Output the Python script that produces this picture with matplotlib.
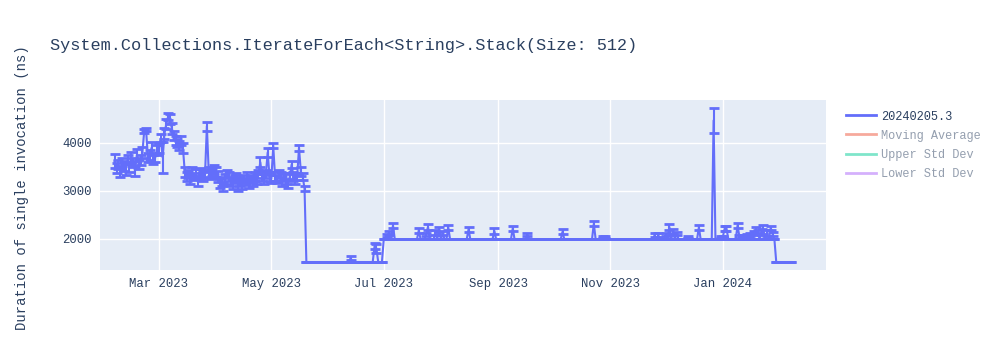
import matplotlib
matplotlib.use("Agg")
import matplotlib.pyplot as plt
import matplotlib.dates as mdates
from matplotlib.lines import Line2D
import pandas as pd

# --- data ------------------------------------------------------------------
# daily means, Feb 5 2023 .. May 19 2023
seg1_start = "2023-02-05"
seg1_values = [
    3620, 3480, 3550, 3400, 3600, 3520, 3450,
    3650, 3500, 3700, 3600, 3420, 3750, 3550,
    3650, 3800, 4250, 4280, 3700, 3750, 3900,
    3650, 3700, 3850,
    3900, 4100, 3700, 4200, 4400, 4550, 4500,
    4300, 4150, 4050, 4000, 3950, 4050, 3900,
    3400, 3300, 3350, 3250, 3400, 3300, 3350,
    3200, 3400, 3350, 3300, 3350, 4350, 3400,
    3350, 3400, 3450,
    3400, 3300, 3150, 3200, 3100, 3250, 3350,
    3300, 3200, 3150, 3250, 3300, 3100, 3200,
    3150, 3250, 3200, 3300, 3150, 3250, 3200,
    3300, 3250, 3350, 3600, 3300, 3250, 3350,
    3800, 3300,
    3250, 3950, 3300, 3250, 3350, 3300, 3200,
    3300, 3250, 3150, 3300, 3550, 3300, 3250,
    3300, 3900, 3400, 3300, 3050,
]
seg1_err = [
    150, 100, 90, 110, 80, 100, 120,
    90, 100, 120, 90, 100, 130, 90,
    100, 120, 40, 30, 90, 100, 120,
    90, 100, 110,
    100, 80, 330, 120, 100, 80, 100,
    110, 90, 100, 80, 90, 100, 110,
    100, 90, 80, 100, 90, 80, 100,
    90, 80, 100, 90, 80, 90, 100,
    90, 80, 100,
    100, 110, 90, 100, 90, 100, 80,
    90, 100, 110, 90, 80, 100, 90,
    100, 90, 80, 100, 90, 80, 100,
    90, 100, 80, 100, 90, 100, 80,
    90, 100,
    90, 60, 100, 90, 80, 100, 90,
    80, 100, 90, 80, 70, 90, 100,
    80, 60, 90, 80, 60,
]

# flat stretches: (start, end, level)
flat_starts = ["2023-05-20", "2023-07-01", "2024-01-30"]
flat_ends = ["2023-06-30", "2024-01-29", "2024-02-07"]
flat_levels = [1520, 1990, 1520]

# days that stand out from the flat stretches
spike_dates = [
    "2023-06-13", "2023-06-26", "2023-06-27",
    "2023-07-03", "2023-07-04", "2023-07-06", "2023-07-20", "2023-07-24",
    "2023-07-25", "2023-07-29", "2023-07-31", "2023-08-02", "2023-08-05",
    "2023-08-16", "2023-08-30", "2023-09-09", "2023-09-17", "2023-10-06",
    "2023-10-23", "2023-10-28", "2023-10-29", "2023-11-25", "2023-11-27",
    "2023-12-01", "2023-12-03", "2023-12-05", "2023-12-07", "2023-12-13",
    "2023-12-19", "2023-12-27", "2023-12-31", "2024-01-01", "2024-01-02",
    "2024-01-03", "2024-01-09", "2024-01-10", "2024-01-12", "2024-01-14",
    "2024-01-16", "2024-01-18", "2024-01-19", "2024-01-20", "2024-01-22",
    "2024-01-23", "2024-01-25", "2024-01-27", "2024-01-28",
]
spike_values = [
    1600, 1850, 1800,
    2080, 2130, 2280, 2180, 2100,
    2250, 2140, 2200, 2120, 2240,
    2200, 2170, 2220, 2090, 2150,
    2320, 2040, 2040, 2080, 2080,
    2100, 2250, 2150, 2120, 2040,
    2240, 4470, 2040, 2040, 2220,
    2220, 2280, 2050, 2050, 2080,
    2100, 2120, 2180, 2140, 2150,
    2200, 2120, 2230, 2100,
]
spike_err = [
    40, 60, 100,
    30, 40, 50, 50, 30,
    60, 50, 50, 40, 50,
    50, 60, 50, 35, 50,
    55, 20, 20, 40, 40,
    30, 60, 50, 30, 20,
    50, 260, 20, 20, 60,
    60, 50, 30, 30, 20,
    30, 40, 60, 40, 60,
    90, 60, 50, 40,
]

legend_names = ["20240205.3", "Moving Average", "Upper Std Dev", "Lower Std Dev"]
legend_colors = ["#636efa", "#EF553B", "#00cc96", "#ab63fa"]

# --- assemble the daily series ------------------------------------------------
s1 = pd.Series(seg1_values, index=pd.date_range(seg1_start, periods=len(seg1_values)), dtype=float)
e1 = pd.Series(seg1_err, index=s1.index, dtype=float)
parts, errs = [s1], [e1]
for a, b, lvl in zip(flat_starts, flat_ends, flat_levels):
    idx = pd.date_range(a, b)
    parts.append(pd.Series(lvl, index=idx, dtype=float))
    errs.append(pd.Series(0.0, index=idx))
values = pd.concat(parts)
err = pd.concat(errs)
sp = pd.to_datetime(spike_dates)
values.loc[sp] = spike_values
err.loc[sp] = spike_err

# --- figure -------------------------------------------------------------------
mono = ["Liberation Mono", "DejaVu Sans Mono"]
plt.rcParams["font.family"] = mono
text_c = "#2a3f5f"

fig = plt.figure(figsize=(10, 3.5), dpi=100)
ax = fig.add_axes([0.100, 0.2286, 0.726, 0.4857])
ax.set_facecolor("#e5ecf6")
for s in ax.spines.values():
    s.set_visible(False)

ax.errorbar(values.index, values.values, yerr=err.values, color="#636efa",
            lw=1.5, elinewidth=1.5, capsize=3.5, capthick=2, zorder=3)

ax.set_xlim(pd.Timestamp("2023-01-28"), pd.Timestamp("2024-02-26"))
ax.set_ylim(1354, 4896)
ax.set_yticks([2000, 3000, 4000])
ax.xaxis.set_major_locator(mdates.MonthLocator(bymonth=[1, 3, 5, 7, 9, 11]))
ax.xaxis.set_major_formatter(mdates.DateFormatter("%b %Y"))
ax.grid(True, color="white", lw=1)
ax.set_axisbelow(True)
ax.tick_params(length=0, labelsize=8.8, colors=text_c, pad=6)

fig.text(0.05, 0.871, "System.Collections.IterateForEach<String>.Stack(Size: 512)",
         fontsize=12.2, color=text_c, va="center", ha="left")
fig.text(0.022, 0.465, "Duration of single invocation (ns)", rotation=90,
         fontsize=10, color=text_c, va="center", ha="center")

handles = [Line2D([], [], color=c, lw=2) for c in legend_colors]
leg = fig.legend(handles, legend_names, loc="upper left", bbox_to_anchor=(0.835, 0.715),
                 frameon=False, fontsize=8.6, handlelength=2.5, handletextpad=0.45,
                 labelspacing=0.6)
for i, (h, t) in enumerate(zip(leg.legend_handles, leg.get_texts())):
    t.set_color(text_c)
    if i > 0:
        h.set_alpha(0.5)
        t.set_alpha(0.5)

fig.savefig("out.png", dpi=100)
